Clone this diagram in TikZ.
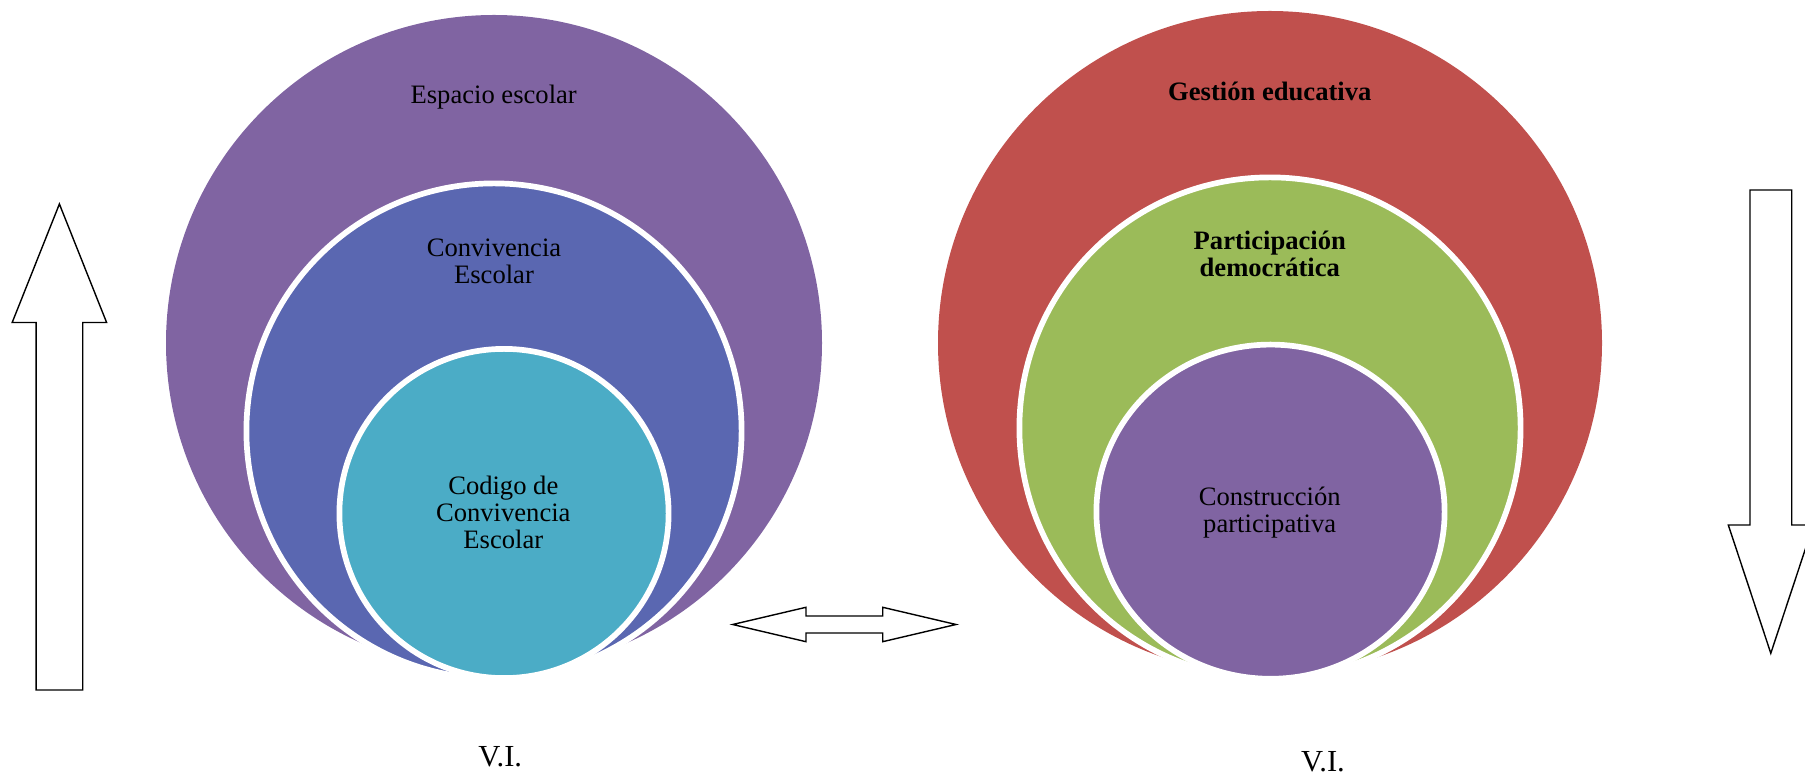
\documentclass[tikz,border=0pt]{standalone}
\usepackage{fontspec}
\setmainfont{Liberation Serif}
\usepackage{tikz}
\usetikzlibrary{shapes.geometric}
\definecolor{ringpurple}{HTML}{8064A2}
\definecolor{ringblue}{HTML}{5A67B1}
\definecolor{ringcyan}{HTML}{4BACC6}
\definecolor{ringred}{HTML}{C0504D}
\definecolor{ringgreen}{HTML}{9BBB59}
\tikzstyle{outerring} = [ellipse, inner sep=0pt, draw=none]
\tikzstyle{ring} = [ellipse, inner sep=0pt, draw=white, line width=2.85pt]
\tikzstyle{ringtext} = [align=center, inner sep=0pt, anchor=base, font=\fontsize{13.3}{13.5}\selectfont]
\tikzstyle{boldtext} = [ringtext, font=\fontsize{13.3}{13.5}\selectfont\bfseries]
\tikzstyle{vitext} = [inner sep=0pt, anchor=base, font=\fontsize{15.3}{16}\selectfont]
\tikzstyle{blockarrow} = [draw=black, fill=white, line width=0.7pt, line join=miter]

\begin{document}
\begin{tikzpicture}[x=0.5pt, y=-0.5pt]
	\useasboundingbox (0,0) rectangle (1805,779);
	
	\node(espacio) [outerring, fill=ringpurple, minimum width=328pt, minimum height=328pt] at (494,343) {};
	\node(convivencia) [ring, fill=ringblue, minimum width=247.6pt, minimum height=247.6pt] at (494,431) {};
	\node(codigo) [ring, fill=ringcyan, minimum width=164.6pt, minimum height=164.6pt] at (504,513.5) {};
	
	\node(gestion) [outerring, fill=ringred, minimum width=332pt, minimum height=332pt] at (1270,343) {};
	\node(participacion) [ring, fill=ringgreen, minimum width=250.6pt, minimum height=250.6pt] at (1270,428) {};
	\node(construccion) [ring, fill=ringpurple, minimum width=174.1pt, minimum height=167.1pt] at (1270.5,511.7) {};
	
	\node(espaciotxt) [ringtext] at (493.7,104) {Espacio escolar};
	\node(convivenciatxt) [ringtext] at (494,283.5) {Convivencia\\Escolar};
	\node(codigotxt) [ringtext] at (503.3,548.5) {Codigo de\\Convivencia\\Escolar};
	\node(gestiontxt) [boldtext] at (1269.8,101) {Gestión educativa};
	\node(participaciontxt) [boldtext] at (1269.8,276.5) {Participación\\democrática};
	\node(construcciontxt) [ringtext] at (1269.7,533) {Construcción\\participativa};
	\node(vileft) [vitext] at (500.3,766.7) {V.I.};
	\node(viright) [vitext] at (1323,771.7) {V.I.};
	
	\draw[blockarrow] (59.4,204) -- (106.6,322.5) -- (82.7,322.5) -- (82.7,690) -- (36.1,690) -- (36.1,322.5) -- (12.2,322.5) -- cycle;
	\draw[blockarrow] (732.7,624.5) -- (806,607.3) -- (806,616) -- (882.7,616) -- (882.7,607.3) -- (956,624.5) -- (882.7,641.7) -- (882.7,633) -- (806,633) -- (806,641.7) -- cycle;
	\draw[blockarrow] (1750,190) -- (1791.7,190) -- (1791.7,525) -- (1813.3,525) -- (1770.8,653.3) -- (1728.3,525) -- (1750,525) -- cycle;
\end{tikzpicture}
\end{document}
